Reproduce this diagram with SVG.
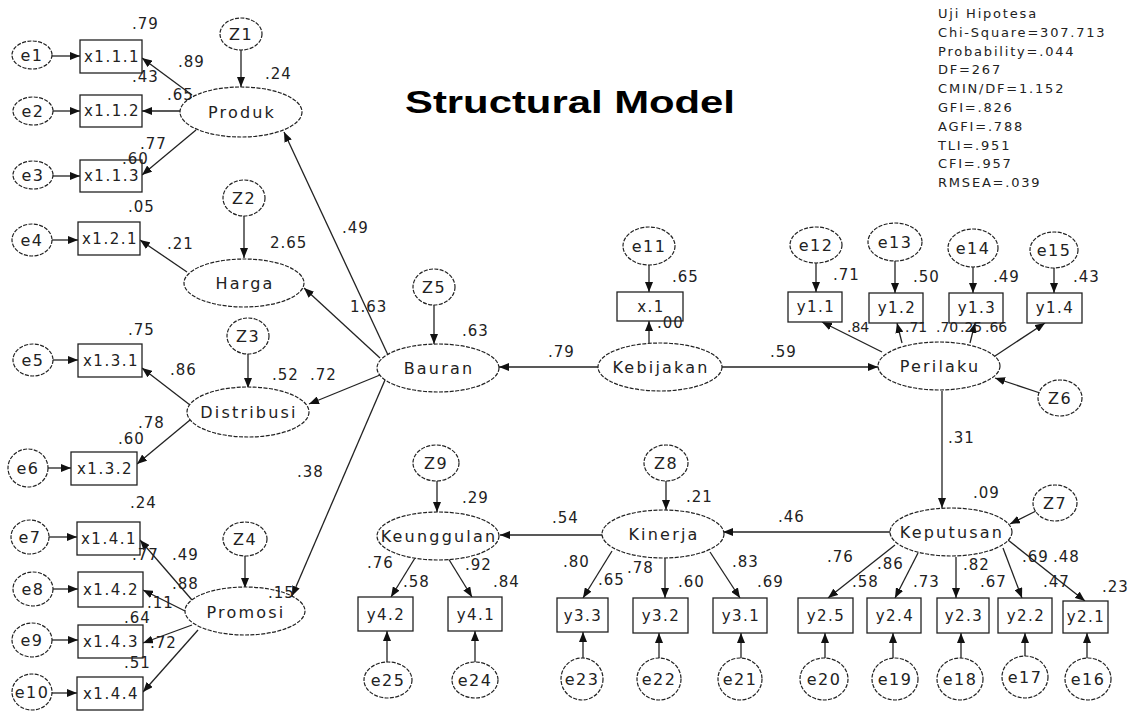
<svg xmlns="http://www.w3.org/2000/svg" width="1131" height="711" viewBox="0 0 1131 711">
<style>
.bg{fill:#fff}
.lv{fill:#fff;stroke:#222;stroke-width:1.2;stroke-dasharray:4 1.4}
.bx{fill:#fff;stroke:#222;stroke-width:1.3}
.c line{stroke:#222;stroke-width:1.3;marker-end:url(#ah)}
text{font-family:"DejaVu Sans","Liberation Sans",sans-serif;fill:#222}
.nl{font-size:16px;letter-spacing:2.2px;text-anchor:middle}
.bl{font-size:15px;letter-spacing:1.5px;text-anchor:middle}
.el{font-size:16px;letter-spacing:1.5px;text-anchor:middle}
.n{font-size:15px;letter-spacing:1px}
.t{letter-spacing:0;font-size:14px}
.st{font-size:13px;letter-spacing:1.8px}
.title{font-family:"Liberation Sans",Arial,sans-serif;font-weight:bold;font-size:31px;fill:#000}
</style>
<defs>
<marker id="ah" markerWidth="10" markerHeight="8" refX="10" refY="4" orient="auto" markerUnits="userSpaceOnUse">
<path d="M0,0 L10,4 L0,8 z" fill="#111"/>
</marker>
</defs>
<rect class="bg" x="0" y="0" width="1131" height="711"/>

<g id="connectors" class="c">
<line x1="52" y1="56" x2="80" y2="56"/>
<line x1="53" y1="111" x2="80" y2="111"/>
<line x1="53" y1="176" x2="80" y2="176"/>
<line x1="192" y1="95" x2="142" y2="58"/>
<line x1="180" y1="111" x2="142" y2="111"/>
<line x1="196" y1="130" x2="142" y2="175"/>
<line x1="241" y1="50" x2="241" y2="87"/>
<line x1="52" y1="240" x2="78" y2="240"/>
<line x1="187" y1="272" x2="140" y2="240"/>
<line x1="244" y1="216" x2="244" y2="258"/>
<line x1="53" y1="360" x2="78" y2="360"/>
<line x1="190" y1="405" x2="142" y2="368"/>
<line x1="190" y1="420" x2="137" y2="464"/>
<line x1="48" y1="468" x2="71" y2="468"/>
<line x1="248" y1="354" x2="248" y2="388"/>
<line x1="49" y1="537" x2="77" y2="537"/>
<line x1="53" y1="589" x2="78" y2="589"/>
<line x1="52" y1="640" x2="78" y2="640"/>
<line x1="52" y1="693" x2="77" y2="693"/>
<line x1="192" y1="600" x2="140" y2="540"/>
<line x1="185" y1="611" x2="143" y2="590"/>
<line x1="192" y1="625" x2="143" y2="643"/>
<line x1="198" y1="630" x2="143" y2="692"/>
<line x1="245" y1="556" x2="245" y2="588"/>
<line x1="388" y1="355" x2="284" y2="132"/>
<line x1="380" y1="358" x2="304" y2="288"/>
<line x1="380" y1="375" x2="309" y2="404"/>
<line x1="385" y1="380" x2="292" y2="596"/>
<line x1="434" y1="305" x2="434" y2="344"/>
<line x1="598" y1="367" x2="499" y2="367"/>
<line x1="649" y1="343" x2="649" y2="321"/>
<line x1="649" y1="265" x2="649" y2="292"/>
<line x1="722" y1="367" x2="878" y2="367"/>
<line x1="816" y1="263" x2="816" y2="292"/>
<line x1="895" y1="261" x2="895" y2="293"/>
<line x1="973" y1="267" x2="973" y2="293"/>
<line x1="1054" y1="268" x2="1054" y2="293"/>
<line x1="882" y1="352" x2="822" y2="322"/>
<line x1="902" y1="343" x2="897" y2="323"/>
<line x1="970" y1="343" x2="975" y2="323"/>
<line x1="995" y1="356" x2="1045" y2="323"/>
<line x1="1040" y1="393" x2="995" y2="378"/>
<line x1="942" y1="391" x2="942" y2="508"/>
<line x1="1036" y1="511" x2="1010" y2="524"/>
<line x1="890" y1="532" x2="723" y2="532"/>
<line x1="895" y1="545" x2="828" y2="598"/>
<line x1="918" y1="553" x2="895" y2="598"/>
<line x1="956" y1="557" x2="956" y2="598"/>
<line x1="1003" y1="548" x2="1022" y2="598"/>
<line x1="1008" y1="540" x2="1085" y2="601"/>
<line x1="825" y1="658" x2="825" y2="633"/>
<line x1="893" y1="658" x2="893" y2="633"/>
<line x1="961" y1="658" x2="961" y2="633"/>
<line x1="1025" y1="656" x2="1025" y2="633"/>
<line x1="1087" y1="658" x2="1087" y2="633"/>
<line x1="666" y1="481" x2="666" y2="510"/>
<line x1="602" y1="535" x2="500" y2="535"/>
<line x1="612" y1="551" x2="583" y2="598"/>
<line x1="665" y1="558" x2="665" y2="598"/>
<line x1="710" y1="552" x2="740" y2="598"/>
<line x1="583" y1="658" x2="583" y2="632"/>
<line x1="659" y1="658" x2="659" y2="633"/>
<line x1="741" y1="658" x2="741" y2="633"/>
<line x1="437" y1="481" x2="437" y2="512"/>
<line x1="415" y1="558" x2="391" y2="597"/>
<line x1="448" y1="558" x2="472" y2="597"/>
<line x1="387" y1="662" x2="387" y2="631"/>
<line x1="475" y1="662" x2="475" y2="631"/>
</g>

<g id="e1"><ellipse class="lv" cx="32" cy="55" rx="20" ry="14"/><text class="el" x="32" y="61">e1</text></g>
<g id="e2"><ellipse class="lv" cx="33" cy="111" rx="20" ry="14"/><text class="el" x="33" y="117">e2</text></g>
<g id="e3"><ellipse class="lv" cx="33" cy="175" rx="20" ry="14"/><text class="el" x="33" y="181">e3</text></g>
<g id="e4"><ellipse class="lv" cx="32" cy="240" rx="20" ry="16"/><text class="el" x="32" y="246">e4</text></g>
<g id="e5"><ellipse class="lv" cx="33" cy="360" rx="20" ry="16"/><text class="el" x="33" y="366">e5</text></g>
<g id="e6"><ellipse class="lv" cx="28" cy="468" rx="20" ry="19"/><text class="el" x="28" y="474">e6</text></g>
<g id="e7"><ellipse class="lv" cx="30" cy="537" rx="19" ry="17"/><text class="el" x="30" y="543">e7</text></g>
<g id="e8"><ellipse class="lv" cx="33" cy="589" rx="20" ry="17"/><text class="el" x="33" y="595">e8</text></g>
<g id="e9"><ellipse class="lv" cx="32" cy="640" rx="20" ry="17"/><text class="el" x="32" y="646">e9</text></g>
<g id="e10"><ellipse class="lv" cx="32" cy="692" rx="20" ry="18"/><text class="el" x="32" y="698">e10</text></g>
<g id="e11"><ellipse class="lv" cx="649" cy="246" rx="26" ry="19"/><text class="el" x="649" y="252">e11</text></g>
<g id="e12"><ellipse class="lv" cx="816" cy="245" rx="26" ry="18"/><text class="el" x="816" y="251">e12</text></g>
<g id="e13"><ellipse class="lv" cx="895" cy="242" rx="27" ry="19"/><text class="el" x="895" y="248">e13</text></g>
<g id="e14"><ellipse class="lv" cx="973" cy="248" rx="25" ry="19"/><text class="el" x="973" y="254">e14</text></g>
<g id="e15"><ellipse class="lv" cx="1054" cy="250" rx="24" ry="18"/><text class="el" x="1054" y="256">e15</text></g>
<g id="e16"><ellipse class="lv" cx="1088" cy="679" rx="23" ry="21"/><text class="el" x="1088" y="685">e16</text></g>
<g id="e17"><ellipse class="lv" cx="1025" cy="677" rx="23" ry="21"/><text class="el" x="1025" y="683">e17</text></g>
<g id="e18"><ellipse class="lv" cx="960" cy="679" rx="23" ry="21"/><text class="el" x="960" y="685">e18</text></g>
<g id="e19"><ellipse class="lv" cx="895" cy="679" rx="23" ry="21"/><text class="el" x="895" y="685">e19</text></g>
<g id="e20"><ellipse class="lv" cx="824" cy="679" rx="24" ry="21"/><text class="el" x="824" y="685">e20</text></g>
<g id="e21"><ellipse class="lv" cx="740" cy="679" rx="22" ry="21"/><text class="el" x="740" y="685">e21</text></g>
<g id="e22"><ellipse class="lv" cx="659" cy="679" rx="22" ry="21"/><text class="el" x="659" y="685">e22</text></g>
<g id="e23"><ellipse class="lv" cx="582" cy="679" rx="21" ry="21"/><text class="el" x="582" y="685">e23</text></g>
<g id="e24"><ellipse class="lv" cx="475" cy="680" rx="23" ry="18"/><text class="el" x="475" y="686">e24</text></g>
<g id="e25"><ellipse class="lv" cx="388" cy="680" rx="24" ry="18"/><text class="el" x="388" y="686">e25</text></g>
<g id="Z1"><ellipse class="lv" cx="241" cy="34" rx="21" ry="16"/><text class="el" x="241" y="40">Z1</text></g>
<g id="Z2"><ellipse class="lv" cx="244" cy="198" rx="21" ry="18"/><text class="el" x="244" y="204">Z2</text></g>
<g id="Z3"><ellipse class="lv" cx="248" cy="336" rx="21" ry="18"/><text class="el" x="248" y="342">Z3</text></g>
<g id="Z4"><ellipse class="lv" cx="245" cy="539" rx="22" ry="17"/><text class="el" x="245" y="545">Z4</text></g>
<g id="Z5"><ellipse class="lv" cx="434" cy="287" rx="21" ry="18"/><text class="el" x="434" y="293">Z5</text></g>
<g id="Z6"><ellipse class="lv" cx="1060" cy="398" rx="22" ry="18"/><text class="el" x="1060" y="404">Z6</text></g>
<g id="Z7"><ellipse class="lv" cx="1055" cy="503" rx="22" ry="18"/><text class="el" x="1055" y="509">Z7</text></g>
<g id="Z8"><ellipse class="lv" cx="666" cy="463" rx="22" ry="18"/><text class="el" x="666" y="469">Z8</text></g>
<g id="Z9"><ellipse class="lv" cx="436" cy="463" rx="23" ry="18"/><text class="el" x="436" y="469">Z9</text></g>

<g id="Produk"><ellipse class="lv" cx="241" cy="112" rx="61" ry="25"/><text class="nl" x="242" y="118">Produk</text></g>
<g id="Harga"><ellipse class="lv" cx="244" cy="283" rx="60" ry="24"/><text class="nl" x="245" y="289">Harga</text></g>
<g id="Distribusi"><ellipse class="lv" cx="248" cy="412" rx="61" ry="25"/><text class="nl" x="249" y="418">Distribusi</text></g>
<g id="Promosi"><ellipse class="lv" cx="245" cy="611" rx="60" ry="24"/><text class="nl" x="246" y="618">Promosi</text></g>
<g id="Bauran"><ellipse class="lv" cx="438" cy="368" rx="61" ry="24"/><text class="nl" x="439" y="374">Bauran</text></g>
<g id="Kebijakan"><ellipse class="lv" cx="660" cy="367" rx="62" ry="24"/><text class="nl" x="661" y="373">Kebijakan</text></g>
<g id="Perilaku"><ellipse class="lv" cx="939" cy="366" rx="61" ry="24"/><text class="nl" x="940" y="372">Perilaku</text></g>
<g id="Keputusan"><ellipse class="lv" cx="951" cy="532" rx="61" ry="24"/><text class="nl" x="952" y="538">Keputusan</text></g>
<g id="Kinerja"><ellipse class="lv" cx="663" cy="534" rx="61" ry="24"/><text class="nl" x="664" y="540">Kinerja</text></g>
<g id="Keunggulan"><ellipse class="lv" cx="438" cy="536" rx="61" ry="24"/><text class="nl" x="439" y="542">Keunggulan</text></g>

<g id="x1.1.1"><rect class="bx" x="80" y="40" width="62" height="33"/><text class="bl" x="112" y="62">x1.1.1</text></g>
<g id="x1.1.2"><rect class="bx" x="80" y="95" width="62" height="32"/><text class="bl" x="112" y="116">x1.1.2</text></g>
<g id="x1.1.3"><rect class="bx" x="80" y="160" width="62" height="32"/><text class="bl" x="112" y="181">x1.1.3</text></g>
<g id="x1.2.1"><rect class="bx" x="78" y="222" width="62" height="33"/><text class="bl" x="110" y="244">x1.2.1</text></g>
<g id="x1.3.1"><rect class="bx" x="78" y="344" width="64" height="33"/><text class="bl" x="111" y="366">x1.3.1</text></g>
<g id="x1.3.2"><rect class="bx" x="71" y="452" width="66" height="33"/><text class="bl" x="105" y="474">x1.3.2</text></g>
<g id="x1.4.1"><rect class="bx" x="77" y="522" width="63" height="33"/><text class="bl" x="109" y="544">x1.4.1</text></g>
<g id="x1.4.2"><rect class="bx" x="78" y="572" width="65" height="35"/><text class="bl" x="111" y="595">x1.4.2</text></g>
<g id="x1.4.3"><rect class="bx" x="78" y="625" width="65" height="33"/><text class="bl" x="111" y="647">x1.4.3</text></g>
<g id="x1.4.4"><rect class="bx" x="77" y="677" width="66" height="33"/><text class="bl" x="111" y="699">x1.4.4</text></g>
<g id="x.1"><rect class="bx" x="617" y="292" width="66" height="29"/><text class="bl" x="651" y="312">x.1</text></g>
<g id="y1.1"><rect class="bx" x="788" y="292" width="54" height="30"/><text class="bl" x="816" y="312">y1.1</text></g>
<g id="y1.2"><rect class="bx" x="869" y="293" width="54" height="30"/><text class="bl" x="897" y="313">y1.2</text></g>
<g id="y1.3"><rect class="bx" x="949" y="293" width="54" height="30"/><text class="bl" x="977" y="313">y1.3</text></g>
<g id="y1.4"><rect class="bx" x="1027" y="293" width="55" height="30"/><text class="bl" x="1055" y="313">y1.4</text></g>
<g id="y2.5"><rect class="bx" x="798" y="598" width="55" height="35"/><text class="bl" x="826" y="621">y2.5</text></g>
<g id="y2.4"><rect class="bx" x="867" y="598" width="54" height="35"/><text class="bl" x="895" y="621">y2.4</text></g>
<g id="y2.3"><rect class="bx" x="937" y="598" width="52" height="35"/><text class="bl" x="964" y="621">y2.3</text></g>
<g id="y2.2"><rect class="bx" x="998" y="598" width="54" height="35"/><text class="bl" x="1026" y="621">y2.2</text></g>
<g id="y2.1"><rect class="bx" x="1063" y="601" width="45" height="32"/><text class="bl" x="1086" y="622">y2.1</text></g>
<g id="y3.3"><rect class="bx" x="557" y="598" width="51" height="34"/><text class="bl" x="583" y="621">y3.3</text></g>
<g id="y3.2"><rect class="bx" x="633" y="598" width="55" height="35"/><text class="bl" x="661" y="621">y3.2</text></g>
<g id="y3.1"><rect class="bx" x="713" y="598" width="54" height="35"/><text class="bl" x="741" y="621">y3.1</text></g>
<g id="y4.2"><rect class="bx" x="358" y="597" width="55" height="34"/><text class="bl" x="386" y="620">y4.2</text></g>
<g id="y4.1"><rect class="bx" x="448" y="597" width="54" height="34"/><text class="bl" x="476" y="620">y4.1</text></g>

<g id="estimates">
<text class="n" x="132" y="29">.79</text>
<text class="n" x="178" y="67">.89</text>
<text class="n" x="132" y="82">.43</text>
<text class="n" x="167" y="100">.65</text>
<text class="n" x="140" y="149">.77</text>
<text class="n" x="122" y="164">.60</text>
<text class="n" x="265" y="79">.24</text>
<text class="n" x="128" y="212">.05</text>
<text class="n" x="167" y="249">.21</text>
<text class="n" x="270" y="248">2.65</text>
<text class="n" x="342" y="233">.49</text>
<text class="n" x="350" y="312">1.63</text>
<text class="n" x="128" y="335">.75</text>
<text class="n" x="170" y="375">.86</text>
<text class="n" x="272" y="380">.52</text>
<text class="n" x="310" y="380">.72</text>
<text class="n" x="138" y="428">.78</text>
<text class="n" x="118" y="444">.60</text>
<text class="n" x="130" y="508">.24</text>
<text class="n" x="297" y="477">.38</text>
<text class="n" x="132" y="560">.77</text>
<text class="n" x="172" y="560">.49</text>
<text class="n" x="172" y="589">.88</text>
<text class="n" x="147" y="608">.11</text>
<text class="n" x="124" y="623">.64</text>
<text class="n" x="150" y="648">.72</text>
<text class="n" x="124" y="668">.51</text>
<text class="n" x="268" y="598">.15</text>
<text class="n" x="462" y="336">.63</text>
<text class="n" x="548" y="357">.79</text>
<text class="n" x="672" y="282">.65</text>
<text class="n" x="657" y="328">.00</text>
<text class="n" x="770" y="357">.59</text>
<text class="n" x="833" y="280">.71</text>
<text class="n" x="913" y="282">.50</text>
<text class="n" x="993" y="282">.49</text>
<text class="n" x="1073" y="282">.43</text>
<text class="n t" x="847" y="332">.84</text>
<text class="n t" x="905" y="332">.71</text>
<text class="n t" x="936" y="332">.70</text>
<text class="n t" x="960" y="332">.25</text>
<text class="n t" x="985" y="332">.66</text>
<text class="n" x="948" y="443">.31</text>
<text class="n" x="973" y="498">.09</text>
<text class="n" x="778" y="522">.46</text>
<text class="n" x="827" y="562">.76</text>
<text class="n" x="877" y="569">.86</text>
<text class="n" x="852" y="587">.58</text>
<text class="n" x="913" y="587">.73</text>
<text class="n" x="963" y="570">.82</text>
<text class="n" x="980" y="587">.67</text>
<text class="n" x="1022" y="562">.69</text>
<text class="n" x="1053" y="562">.48</text>
<text class="n" x="1043" y="587">.47</text>
<text class="n" x="1102" y="592">.23</text>
<text class="n" x="686" y="502">.21</text>
<text class="n" x="552" y="523">.54</text>
<text class="n" x="563" y="567">.80</text>
<text class="n" x="598" y="585">.65</text>
<text class="n" x="627" y="573">.78</text>
<text class="n" x="678" y="587">.60</text>
<text class="n" x="732" y="567">.83</text>
<text class="n" x="757" y="587">.69</text>
<text class="n" x="462" y="503">.29</text>
<text class="n" x="367" y="568">.76</text>
<text class="n" x="403" y="587">.58</text>
<text class="n" x="465" y="570">.92</text>
<text class="n" x="493" y="587">.84</text>
</g>

<text class="title" x="405" y="113" textLength="330" lengthAdjust="spacingAndGlyphs">Structural Model</text>

<g id="fit-stats">
<text class="st" x="938" y="18">Uji Hipotesa</text>
<text class="st" x="938" y="37">Chi-Square=307.713</text>
<text class="st" x="938" y="56">Probability=.044</text>
<text class="st" x="938" y="74">DF=267</text>
<text class="st" x="938" y="93">CMIN/DF=1.152</text>
<text class="st" x="938" y="112">GFI=.826</text>
<text class="st" x="938" y="131">AGFI=.788</text>
<text class="st" x="938" y="150">TLI=.951</text>
<text class="st" x="938" y="168">CFI=.957</text>
<text class="st" x="938" y="187">RMSEA=.039</text>
</g>
</svg>
